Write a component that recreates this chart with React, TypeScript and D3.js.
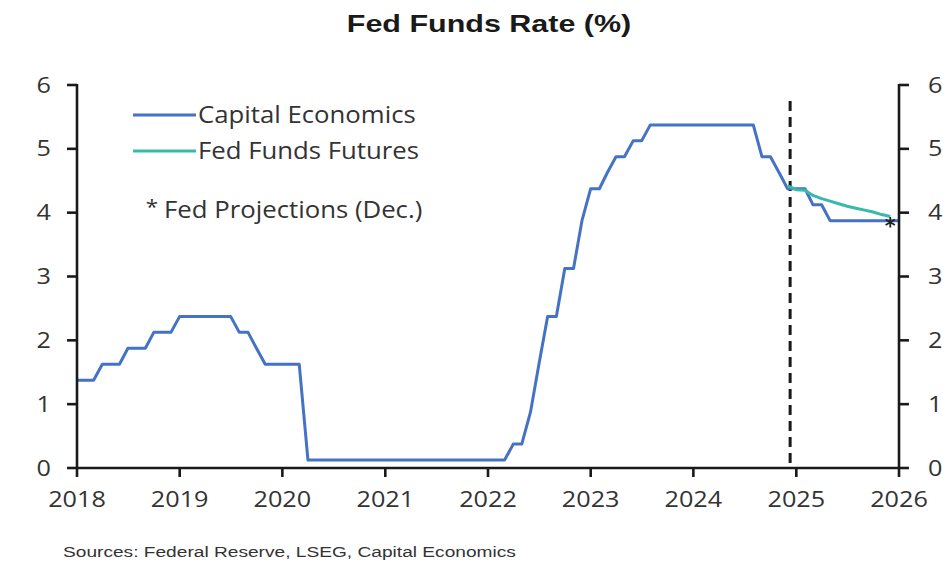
import React from "react";
import * as d3 from "d3";

const W = 943;
const H = 566;
const M = { left: 77, right: 44, top: 85, bottom: 98 };

const TITLE = "Fed Funds Rate (%)";
const SOURCE = "Sources: Federal Reserve, LSEG, Capital Economics";

const X_TICK_YEARS = [2018, 2019, 2020, 2021, 2022, 2023, 2024, 2025, 2026];
const Y_TICKS = [0, 1, 2, 3, 4, 5, 6];

// Capital Economics series, monthly from Jan 2018 to Jan 2026
const CE_START = [2018, 0];
const CE_VALUES = [
  // 2018
  1.375, 1.375, 1.375, 1.625, 1.625, 1.625, 1.875, 1.875, 1.875, 2.125, 2.125, 2.125,
  // 2019
  2.375, 2.375, 2.375, 2.375, 2.375, 2.375, 2.375, 2.125, 2.125, 1.875, 1.625, 1.625,
  // 2020
  1.625, 1.625, 1.625, 0.125, 0.125, 0.125, 0.125, 0.125, 0.125, 0.125, 0.125, 0.125,
  // 2021
  0.125, 0.125, 0.125, 0.125, 0.125, 0.125, 0.125, 0.125, 0.125, 0.125, 0.125, 0.125,
  // 2022
  0.125, 0.125, 0.125, 0.375, 0.375, 0.875, 1.625, 2.375, 2.375, 3.125, 3.125, 3.875,
  // 2023
  4.375, 4.375, 4.625, 4.875, 4.875, 5.125, 5.125, 5.375, 5.375, 5.375, 5.375, 5.375,
  // 2024
  5.375, 5.375, 5.375, 5.375, 5.375, 5.375, 5.375, 5.375, 4.875, 4.875, 4.625, 4.375,
  // 2025
  4.375, 4.375, 4.125, 4.125, 3.875, 3.875, 3.875, 3.875, 3.875, 3.875, 3.875, 3.875,
  // 2026
  3.875,
];

// Fed funds futures, monthly from Dec 2024 to Dec 2025
const FUT_START = [2024, 11];
const FUT_VALUES = [4.42, 4.36, 4.35, 4.27, 4.22, 4.18, 4.14, 4.1, 4.07, 4.04, 4.01, 3.97, 3.94];

// Fed projections (Dec.)
const PROJ_DATES = [[2025, 11]];
const PROJ_VALUES = [3.85];

// Start of forecast period (dashed line)
const FORECAST_DATE = [2024, 11, 10];

const LEGEND_ITEMS = ["Capital Economics", "Fed Funds Futures"];
const LEGEND_PROJ = "Fed Projections (Dec.)";

const BLUE = "#4472C4";
const TEAL = "#38B9AA";
const AXIS = "#1a1a1a";
const TEXT = "#333333";

const monthSeries = (start: number[], values: number[]) =>
  values.map((v, i) => ({ date: new Date(start[0], start[1] + i, 1), value: v }));

function StretchText({
  x,
  y,
  sx,
  anchor,
  size,
  weight,
  family,
  fill,
  children,
}: {
  x: number;
  y: number;
  sx: number;
  anchor: "start" | "middle" | "end";
  size: number;
  weight?: number | string;
  family: string;
  fill: string;
  children: React.ReactNode;
}) {
  return (
    <g transform={`translate(${x},${y}) scale(${sx},1)`}>
      <text
        x={0}
        y={0}
        textAnchor={anchor}
        fontSize={size}
        fontWeight={weight ?? "normal"}
        fontFamily={family}
        fill={fill}
      >
        {children}
      </text>
    </g>
  );
}

export default function App() {
  const x = d3
    .scaleTime()
    .domain([new Date(2018, 0, 1), new Date(2026, 0, 1)])
    .range([M.left, W - M.right]);
  const y = d3.scaleLinear().domain([0, 6]).range([H - M.bottom, M.top]);

  const ce = monthSeries(CE_START, CE_VALUES);
  const fut = monthSeries(FUT_START, FUT_VALUES);
  const proj = PROJ_DATES.map((d, i) => ({ date: new Date(d[0], d[1], 1), value: PROJ_VALUES[i] }));

  const line = d3
    .line<{ date: Date; value: number }>()
    .x((d) => x(d.date))
    .y((d) => y(d.value));

  const x0 = x.range()[0];
  const x1 = x.range()[1];
  const y0 = y(0);
  const yTop = y(6);
  const fx = x(new Date(FORECAST_DATE[0], FORECAST_DATE[1], FORECAST_DATE[2]));
  const star = d3.symbol(d3.symbolAsterisk, 80)() as string;

  const tickFont = "'Open Sans', sans-serif";
  const tickSize = 21;
  const tickStretch = 1.2;
  const legendStretch = 1.12;

  return (
    <svg
      width={W}
      height={H}
      style={{ position: "absolute", left: 0, top: 0, background: "#fff" }}
    >
      <rect x={0} y={0} width={W} height={H} fill="#fff" />

      {/* Title */}
      <StretchText
        x={489}
        y={32}
        sx={1.27}
        anchor="middle"
        size={24}
        weight="bold"
        family="'Liberation Sans', Arial, sans-serif"
        fill="#1a1a1a"
      >
        {TITLE}
      </StretchText>

      {/* Forecast divider */}
      <line
        x1={fx}
        x2={fx}
        y1={101}
        y2={y0}
        stroke="#1a1a1a"
        strokeWidth={3}
        strokeDasharray="10 6"
      />

      {/* Series */}
      <path d={line(ce) ?? ""} fill="none" stroke={BLUE} strokeWidth={3} strokeLinejoin="round" />
      <path d={line(fut) ?? ""} fill="none" stroke={TEAL} strokeWidth={3} strokeLinejoin="round" />
      {proj.map((p, i) => (
        <path
          key={i}
          d={star}
          transform={`translate(${x(p.date)},${y(p.value)})`}
          fill="none"
          stroke="#222"
          strokeWidth={1.8}
        />
      ))}

      {/* Axes */}
      <g stroke={AXIS} strokeWidth={2.6}>
        <line x1={x0} x2={x0} y1={yTop - 1} y2={y0} />
        <line x1={x1} x2={x1} y1={yTop - 1} y2={y0} />
        <line x1={x0} x2={x1} y1={y0} y2={y0} />
        {Y_TICKS.map((t) => (
          <g key={"yt" + t}>
            <line x1={x0 - 10} x2={x0} y1={y(t)} y2={y(t)} />
            <line x1={x1} x2={x1 + 10} y1={y(t)} y2={y(t)} />
          </g>
        ))}
        {X_TICK_YEARS.map((yr) => (
          <line key={"xt" + yr} x1={x(new Date(yr, 0, 1))} x2={x(new Date(yr, 0, 1))} y1={y0} y2={y0 + 9} />
        ))}
      </g>

      {Y_TICKS.map((t) => (
        <g key={"yl" + t}>
          <StretchText x={51} y={y(t) + 7.5} sx={tickStretch} anchor="end" size={tickSize} family={tickFont} fill={TEXT}>
            {t}
          </StretchText>
          <StretchText x={928} y={y(t) + 7.5} sx={tickStretch} anchor="start" size={tickSize} family={tickFont} fill={TEXT}>
            {t}
          </StretchText>
        </g>
      ))}
      {X_TICK_YEARS.map((yr) => (
        <StretchText
          key={"xl" + yr}
          x={x(new Date(yr, 0, 1))}
          y={507}
          sx={tickStretch}
          anchor="middle"
          size={tickSize}
          family={tickFont}
          fill={TEXT}
        >
          {yr}
        </StretchText>
      ))}

      {/* Legend */}
      {LEGEND_ITEMS.map((label, i) => {
        const ly = 115 + i * 36;
        return (
          <g key={label}>
            <line x1={133} x2={196} y1={ly} y2={ly} stroke={i === 0 ? BLUE : TEAL} strokeWidth={3} />
            <StretchText x={198} y={ly + 8} sx={legendStretch} anchor="start" size={23} family={tickFont} fill={TEXT}>
              {label}
            </StretchText>
          </g>
        );
      })}
      <StretchText x={152} y={214} sx={legendStretch} anchor="middle" size={20} family={tickFont} fill={TEXT}>
        *
      </StretchText>
      <StretchText x={164} y={218} sx={legendStretch} anchor="start" size={23} family={tickFont} fill={TEXT}>
        {LEGEND_PROJ}
      </StretchText>

      {/* Source */}
      <StretchText
        x={63}
        y={557}
        sx={1.32}
        anchor="start"
        size={14.5}
        family="'Liberation Sans', Arial, sans-serif"
        fill="#333"
      >
        {SOURCE}
      </StretchText>
    </svg>
  );
}
